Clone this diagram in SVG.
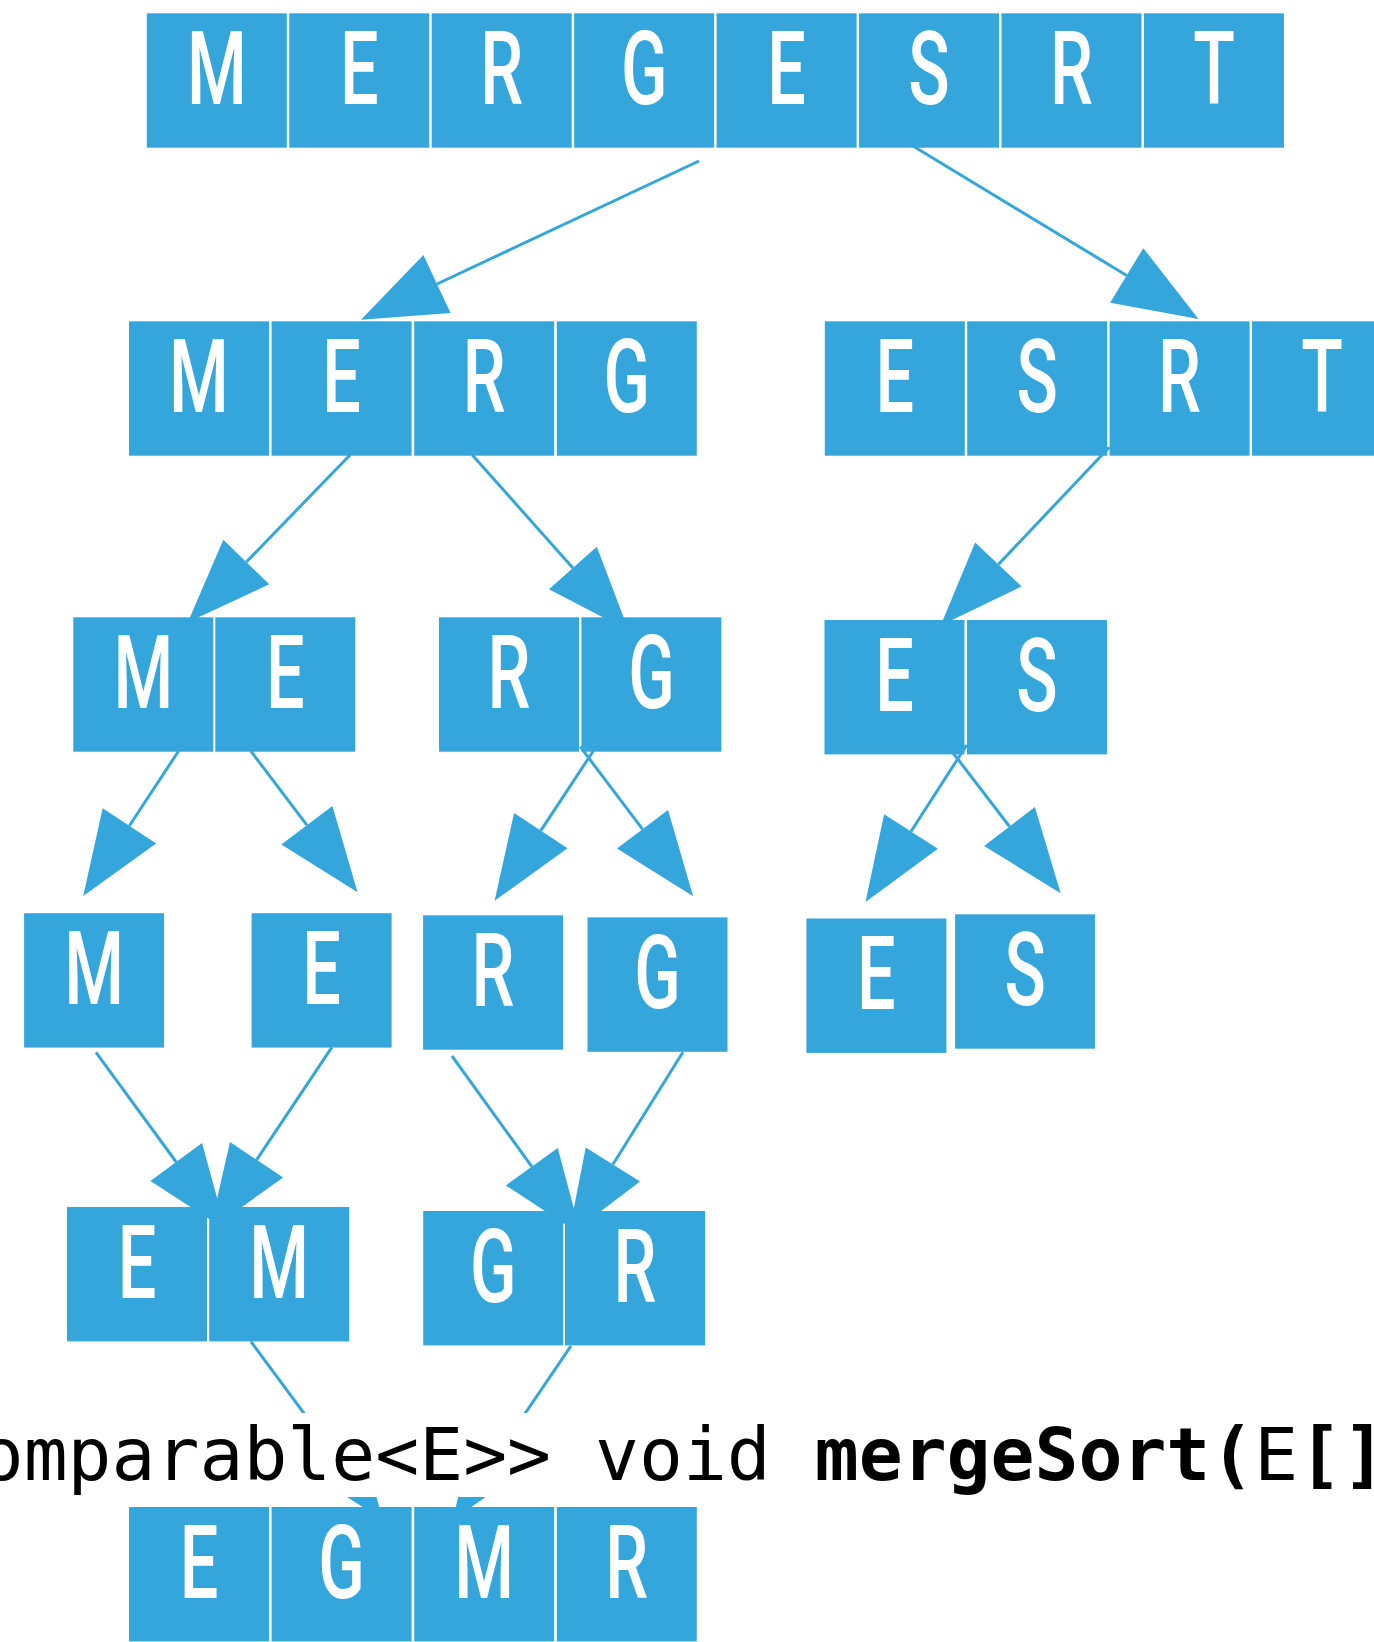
<svg xmlns="http://www.w3.org/2000/svg" width="1374" height="1642" viewBox="0 0 1374 1642">
  <style>
    .cell { fill: #35A6DB; }
    .ltr { font-family: Roboto, "Liberation Sans", sans-serif; font-weight: 500; font-size: 102px; fill: #ffffff; text-anchor: middle; }
    .edge { stroke: #35A6DB; stroke-width: 3; fill: none; marker-end: url(#ah); }
    .code { font-family: "DejaVu Sans Mono", "Liberation Mono", monospace; font-size: 73px; fill: #000000; }
    .code .b { font-weight: 700; }
  </style>
  <defs>
    <marker id="ah" markerUnits="userSpaceOnUse" markerWidth="84" markerHeight="64" viewBox="0 0 84 64" refX="0" refY="32" orient="auto" overflow="visible">
      <path d="M0,0 L84,32 L0,64 z" fill="#35A6DB"/>
    </marker>
    <!-- one array cell: square plus its letter, placed by translate -->
    <rect id="sq" class="cell" width="140" height="134.4"/>
  </defs>

  <!-- connectors -->
  <g id="connectors">
    <line class="edge" x1="699" y1="161" x2="437" y2="284"/>
    <line class="edge" x1="913" y1="146" x2="1126.7" y2="275.5"/>
    <line class="edge" x1="350" y1="455" x2="246.3" y2="562"/>
    <line class="edge" x1="472.3" y1="455" x2="572.9" y2="568"/>
    <line class="edge" x1="1109.3" y1="447.3" x2="998.4" y2="564.4"/>
    <line class="edge" x1="178.6" y1="751" x2="129.4" y2="825.8"/>
    <line class="edge" x1="250.8" y1="751" x2="306.9" y2="825.2"/>
    <line class="edge" x1="593.3" y1="751" x2="540.8" y2="830.7"/>
    <line class="edge" x1="580.2" y1="746.7" x2="642.5" y2="829.2"/>
    <line class="edge" x1="966.7" y1="745" x2="911" y2="831.5"/>
    <line class="edge" x1="947" y1="745" x2="1009.5" y2="826.5"/>
    <line class="edge" x1="96" y1="1052.3" x2="176.2" y2="1162"/>
    <line class="edge" x1="331.8" y1="1047.3" x2="256.6" y2="1159.8"/>
    <line class="edge" x1="452" y1="1056" x2="531.8" y2="1166.7"/>
    <line class="edge" x1="683" y1="1052" x2="612.9" y2="1164.5"/>
    <line class="edge" x1="251" y1="1341.6" x2="333" y2="1452.5"/>
    <line class="edge" x1="571" y1="1345.8" x2="499.9" y2="1450.5"/>
  </g>

  <!-- code line on a white band -->
  <g id="signature">
    <rect x="0" y="1413" width="1374" height="84" fill="#ffffff"/>
    <text class="code" x="-20.3" y="1480">omparable&lt;E&gt;&gt; void <tspan class="b">mergeSort(</tspan>E<tspan class="b">[]</tspan></text>
  </g>

  <!-- arrays -->
  <g id="n-mergesrt" transform="translate(0,13.3)">
    <g transform="translate(146.8,0)"><use href="#sq"/><text class="ltr" transform="translate(70,90.5) scale(0.67,1)">M</text></g>
    <g transform="translate(289.25,0)"><use href="#sq"/><text class="ltr" transform="translate(70,90.5) scale(0.67,1)">E</text></g>
    <g transform="translate(431.7,0)"><use href="#sq"/><text class="ltr" transform="translate(70,90.5) scale(0.67,1)">R</text></g>
    <g transform="translate(574.15,0)"><use href="#sq"/><text class="ltr" transform="translate(70,90.5) scale(0.67,1)">G</text></g>
    <g transform="translate(716.6,0)"><use href="#sq"/><text class="ltr" transform="translate(70,90.5) scale(0.67,1)">E</text></g>
    <g transform="translate(859.05,0)"><use href="#sq"/><text class="ltr" transform="translate(70,90.5) scale(0.67,1)">S</text></g>
    <g transform="translate(1001.5,0)"><use href="#sq"/><text class="ltr" transform="translate(70,90.5) scale(0.67,1)">R</text></g>
    <g transform="translate(1143.95,0)"><use href="#sq"/><text class="ltr" transform="translate(70,90.5) scale(0.67,1)">T</text></g>
  </g>

  <g id="n-merg" transform="translate(0,321.3)">
    <g transform="translate(129,0)"><use href="#sq"/><text class="ltr" transform="translate(70,90.5) scale(0.67,1)">M</text></g>
    <g transform="translate(271.6,0)"><use href="#sq"/><text class="ltr" transform="translate(70,90.5) scale(0.67,1)">E</text></g>
    <g transform="translate(414.2,0)"><use href="#sq"/><text class="ltr" transform="translate(70,90.5) scale(0.67,1)">R</text></g>
    <g transform="translate(556.8,0)"><use href="#sq"/><text class="ltr" transform="translate(70,90.5) scale(0.67,1)">G</text></g>
  </g>

  <g id="n-esrt" transform="translate(0,321.3)">
    <g transform="translate(824.8,0)"><use href="#sq"/><text class="ltr" transform="translate(70,90.5) scale(0.67,1)">E</text></g>
    <g transform="translate(967.2,0)"><use href="#sq"/><text class="ltr" transform="translate(70,90.5) scale(0.67,1)">S</text></g>
    <g transform="translate(1109.6,0)"><use href="#sq"/><text class="ltr" transform="translate(70,90.5) scale(0.67,1)">R</text></g>
    <g transform="translate(1252,0)"><use href="#sq"/><text class="ltr" transform="translate(70,90.5) scale(0.67,1)">T</text></g>
  </g>

  <g id="n-me" transform="translate(0,617.3)">
    <g transform="translate(73.3,0)"><use href="#sq"/><text class="ltr" transform="translate(70,90.5) scale(0.67,1)">M</text></g>
    <g transform="translate(215.3,0)"><use href="#sq"/><text class="ltr" transform="translate(70,90.5) scale(0.67,1)">E</text></g>
  </g>

  <g id="n-rg" transform="translate(0,617.3)">
    <g transform="translate(439,0)"><use href="#sq"/><text class="ltr" transform="translate(70,90.5) scale(0.67,1)">R</text></g>
    <g transform="translate(581.4,0)"><use href="#sq"/><text class="ltr" transform="translate(70,90.5) scale(0.67,1)">G</text></g>
  </g>

  <g id="n-es" transform="translate(0,620)">
    <g transform="translate(824.5,0)"><use href="#sq"/><text class="ltr" transform="translate(70,90.5) scale(0.67,1)">E</text></g>
    <g transform="translate(967,0)"><use href="#sq"/><text class="ltr" transform="translate(70,90.5) scale(0.67,1)">S</text></g>
  </g>

  <g id="n-m" transform="translate(24.1,913.2)"><use href="#sq"/><text class="ltr" transform="translate(70,90.5) scale(0.67,1)">M</text></g>
  <g id="n-e" transform="translate(251.6,913.2)"><use href="#sq"/><text class="ltr" transform="translate(70,90.5) scale(0.67,1)">E</text></g>
  <g id="n-r" transform="translate(423.1,915.3)"><use href="#sq"/><text class="ltr" transform="translate(70,90.5) scale(0.67,1)">R</text></g>
  <g id="n-g" transform="translate(587.5,917.4)"><use href="#sq"/><text class="ltr" transform="translate(70,90.5) scale(0.67,1)">G</text></g>
  <g id="n-e2" transform="translate(806.4,918.5)"><use href="#sq"/><text class="ltr" transform="translate(70,90.5) scale(0.67,1)">E</text></g>
  <g id="n-s" transform="translate(955.1,914.3)"><use href="#sq"/><text class="ltr" transform="translate(70,90.5) scale(0.67,1)">S</text></g>

  <g id="n-em" transform="translate(0,1207)">
    <g transform="translate(67,0)"><use href="#sq"/><text class="ltr" transform="translate(70,90.5) scale(0.67,1)">E</text></g>
    <g transform="translate(209.2,0)"><use href="#sq"/><text class="ltr" transform="translate(70,90.5) scale(0.67,1)">M</text></g>
  </g>

  <g id="n-gr" transform="translate(0,1211)">
    <g transform="translate(423.2,0)"><use href="#sq"/><text class="ltr" transform="translate(70,90.5) scale(0.67,1)">G</text></g>
    <g transform="translate(565,0)"><use href="#sq"/><text class="ltr" transform="translate(70,90.5) scale(0.67,1)">R</text></g>
  </g>

  <g id="n-egmr" transform="translate(0,1507)">
    <g transform="translate(129,0)"><use href="#sq"/><text class="ltr" transform="translate(70,90.5) scale(0.67,1)">E</text></g>
    <g transform="translate(271.6,0)"><use href="#sq"/><text class="ltr" transform="translate(70,90.5) scale(0.67,1)">G</text></g>
    <g transform="translate(414.2,0)"><use href="#sq"/><text class="ltr" transform="translate(70,90.5) scale(0.67,1)">M</text></g>
    <g transform="translate(556.8,0)"><use href="#sq"/><text class="ltr" transform="translate(70,90.5) scale(0.67,1)">R</text></g>
  </g>
</svg>
